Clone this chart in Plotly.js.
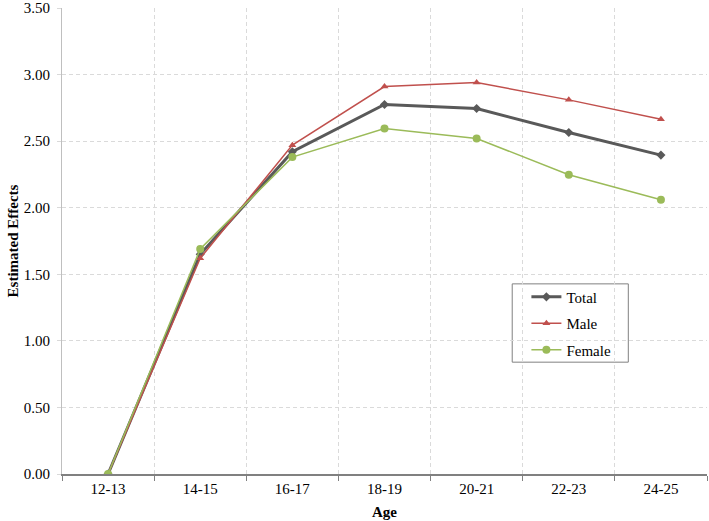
<!DOCTYPE html>
<html>
<head>
<meta charset="utf-8">
<script src="https://cdn.plot.ly/plotly-3.0.1.min.js"></script>
<style>html,body{margin:0;padding:0;background:#fff;}#chart{width:709px;height:521px;}</style>
</head>
<body>
<div id="chart"></div>
<script>
const ages = ["12-13","14-15","16-17","18-19","20-21","22-23","24-25"];
const total = [0, 1.65, 2.42, 2.775, 2.745, 2.565, 2.395];
const male = [0, 1.62, 2.47, 2.91, 2.94, 2.81, 2.665];
const female = [0, 1.69, 2.38, 2.595, 2.52, 2.248, 2.06];
const yTicks = [0, 0.5, 1, 1.5, 2, 2.5, 3, 3.5];

const font = "'Liberation Serif', 'Times New Roman', serif";

const traces = [
  {x: ages, y: total, name: "Total", legendgroup: "a", type: "scatter", mode: "lines+markers",
   line: {color: "#595959", width: 3}, marker: {symbol: "diamond", size: 7, color: "#595959"}},
  {x: ages, y: male, name: "Male", legendgroup: "b", type: "scatter", mode: "lines+markers",
   line: {color: "#C0504D", width: 1.5}, marker: {symbol: "triangle-up", size: 7, color: "#C0504D"}},
  {x: ages, y: female, name: "Female", legendgroup: "c", type: "scatter", mode: "lines+markers",
   line: {color: "#9BBB59", width: 1.5}, marker: {symbol: "circle", size: 8, color: "#9BBB59"}}
];

const layout = {
  width: 709, height: 521,
  margin: {l: 62, r: 2, t: 8, b: 47},
  paper_bgcolor: "#fff", plot_bgcolor: "#fff",
  font: {family: font, size: 15, color: "#000"},
  showlegend: true,
  legend: {x: 0.72, y: 0.415, xanchor: "left", yanchor: "top",
    borderwidth: 0, bgcolor: "rgba(0,0,0,0)",
    font: {family: font, size: 15, color: "#000"}, tracegroupgap: 4, itemwidth: 30},
  shapes: [{type: "rect", xref: "paper", yref: "paper", x0: 0.698, x1: 0.878, y0: 0.240, y1: 0.408,
    line: {color: "#808080", width: 1}, fillcolor: "#fff", layer: "below"}],
  xaxis: {
    type: "category", tickson: "boundaries", ticks: "outside", ticklen: 5, tickcolor: "#808080",
    showline: true, linecolor: "#808080", linewidth: 1.5,
    showgrid: true, gridcolor: "#dadada", griddash: "4px,3px", gridwidth: 1,
    range: [-0.5, 6.5],
    title: {text: "<b>Age</b>", font: {family: font, size: 15}, standoff: 11},
    tickfont: {family: font, size: 15}
  },
  yaxis: {
    range: [0, 3.5], tickvals: yTicks, tickformat: ".2f",
    ticks: "outside", ticklen: 4, tickcolor: "#d9d9d9", ticklabelstandoff: 4,
    showline: true, linecolor: "#bfbfbf", linewidth: 1,
    showgrid: true, gridcolor: "#dadada", griddash: "4px,3px", gridwidth: 1,
    zeroline: false,
    title: {text: "<b>Estimated Effects</b>", font: {family: font, size: 15}, standoff: 1},
    tickfont: {family: font, size: 15}
  }
};

Plotly.newPlot("chart", traces, layout, {displayModeBar: false, staticPlot: true});
</script>
</body>
</html>
